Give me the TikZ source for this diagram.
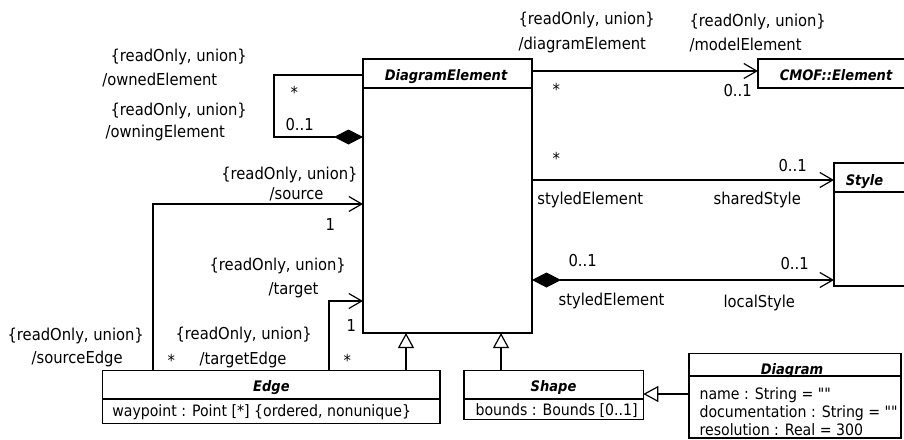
\documentclass[tikz,border=0pt]{standalone}
\usepackage{fontspec}
\newfontfamily\lf{DejaVu Sans Condensed}
\usetikzlibrary{arrows.meta}
\begin{document}
\begin{tikzpicture}[x=1pt,y=-1pt,
  line width=1.2pt,
  box/.style={draw, line width=1.2pt, anchor=north west, inner sep=0pt, outer sep=0pt},
  lbl/.style={anchor=base west, inner sep=0pt, font=\lf\fontsize{16.4}{19}\selectfont},
  attr/.style={anchor=base west, inner sep=0pt, font=\lf\fontsize{15.7}{18}\selectfont},
  ttl/.style={anchor=base, inner sep=0pt, font=\lf\fontsize{14.5}{17}\selectfont\bfseries\itshape},
  assoc/.style={-{Straight Barb[length=13pt,width=15pt,line width=1.2pt]}},
  comp/.style={{Diamond[length=29pt,width=15pt]}-},
  compassoc/.style={{Diamond[length=29pt,width=15pt]}-{Straight Barb[length=13pt,width=15pt,line width=1.2pt]}},
  gen/.style={-{Triangle[open,length=15pt,width=16pt,fill=white,line width=1.2pt]}}
]
\useasboundingbox (0,0) rectangle (904,439);
\clip (0,0) rectangle (904,439);
\fill[white] (0,0) rectangle (904,439);

% classes
\node[box, minimum width=169pt, minimum height=274pt] (de) at (363,59) {};
\draw (de.north west |- 0,88) -- (de.north east |- 0,88);
\node[ttl] (deT) at (446,80) {DiagramElement};

\node[box, minimum width=160pt, minimum height=29pt] (cm) at (758,59) {};
\node[ttl] (cmT) at (836,80) {CMOF::Element};

\node[box, minimum width=90pt, minimum height=123pt] (st) at (834,163) {};
\draw (st.north west |- 0,192) -- (st.north east |- 0,192);
\node[ttl] (stT) at (864.5,185) {Style};

\node[box, minimum width=337.3pt, minimum height=53pt] (edge) at (102.7,370.3) {};
\draw (edge.north west |- 0,399) -- (edge.north east |- 0,399);
\node[ttl] (edgeT) at (271.4,391.7) {Edge};
\node[attr] (edgeA) at (111.7,416.7) {waypoint : Point [*] \{ordered, nonunique\}};

\node[box, minimum width=179.3pt, minimum height=49pt] (sh) at (464,370.3) {};
\draw (sh.north west |- 0,399) -- (sh.north east |- 0,399);
\node[ttl] (shT) at (553.5,391.7) {Shape};
\node[attr] (shA) at (475,415) {bounds : Bounds [0..1]};

\node[box, minimum width=212pt, minimum height=84.7pt] (dg) at (689,353.3) {};
\draw (dg.north west |- 0,376) -- (dg.north east |- 0,376);
\node[ttl] (dgT) at (792,374.3) {Diagram};
\node[attr] (dgA1) at (699,399) {name : String = ""};
\node[attr] (dgA2) at (699,417) {documentation : String = ""};
\node[attr] (dgA3) at (699,435) {resolution : Real = 300};

% connectors
\draw[comp] (de.west |- 0,137) -- (274,137) |- (de.west |- 0,75);
\draw[assoc] (edge.north -| 153,0) |- (de.west |- 0,204);
\draw[assoc] (edge.north -| 329,0) |- (de.west |- 0,301);
\draw[gen] (edge.north -| 406,0) -- (de.south -| 406,0);
\draw[gen] (sh.north -| 501,0) -- (de.south -| 501,0);
\draw[gen] (dg.west |- 0,394) -- (sh.east |- 0,394);
\draw[assoc] (de.east |- 0,71) -- (cm.west |- 0,71);
\draw[assoc] (de.east |- 0,180) -- (st.west |- 0,180);
\draw[compassoc] (de.east |- 0,280) -- (st.west |- 0,280);

% labels
\node[lbl] (l1) at (110,61.7) {\{readOnly, union\}};
\node[lbl] (l2) at (101.7,85) {/ownedElement};
\node[lbl] (l3) at (290,98) {*};
\node[lbl] (l4) at (110,115) {\{readOnly, union\}};
\node[lbl] (l5) at (105,137.7) {/owningElement};
\node[lbl] (l6) at (285,130) {0..1};
\node[lbl] (l7) at (220.7,179.5) {\{readOnly, union\}};
\node[lbl] (l8) at (269,199.3) {/source};
\node[lbl] (l9) at (325,230) {1};
\node[lbl] (l10) at (209,270.7) {\{readOnly, union\}};
\node[lbl] (l11) at (268,294) {/target};
\node[lbl] (l12) at (346,331) {1};
\node[lbl] (l13) at (7,340.7) {\{readOnly, union\}};
\node[lbl] (l14) at (31,363) {/sourceEdge};
\node[lbl] (l15) at (167,366) {*};
\node[lbl] (l16) at (175,339) {\{readOnly, union\}};
\node[lbl] (l17) at (199,364) {/targetEdge};
\node[lbl] (l18) at (343,366) {*};
\node[lbl] (l19) at (518,24) {\{readOnly, union\}};
\node[lbl] (l20) at (518,49.3) {/diagramElement};
\node[lbl] (l21) at (689,26) {\{readOnly, union\}};
\node[lbl] (l22) at (689,50.7) {/modelElement};
\node[lbl] (l23) at (552,95) {*};
\node[lbl] (l24) at (723,96.7) {0..1};
\node[lbl] (l25) at (552,164) {*};
\node[lbl] (l26) at (778,171.7) {0..1};
\node[lbl] (l27) at (536.7,204) {styledElement};
\node[lbl] (l28) at (713,204) {sharedStyle};
\node[lbl] (l29) at (568,266.7) {0..1};
\node[lbl] (l30) at (780,269) {0..1};
\node[lbl] (l31) at (558,305) {styledElement};
\node[lbl] (l32) at (723,307) {localStyle};
\end{tikzpicture}
\end{document}
